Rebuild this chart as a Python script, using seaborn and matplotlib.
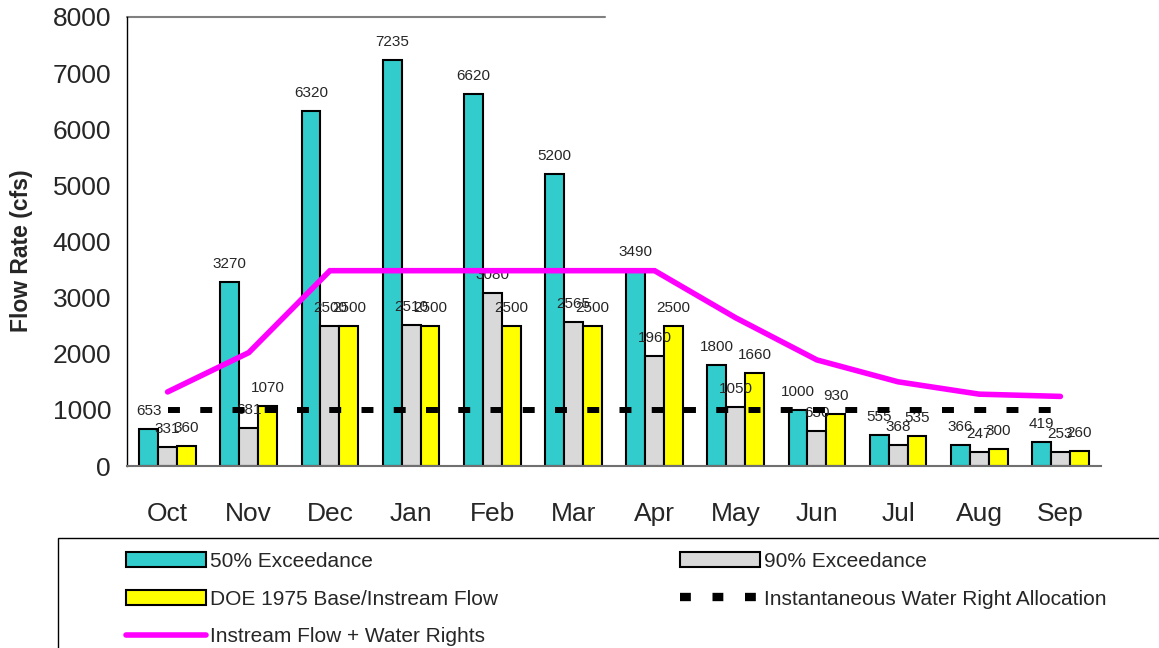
import pandas as pd
import seaborn as sns
import matplotlib.pyplot as plt
from matplotlib.patches import Patch, Rectangle
from matplotlib.lines import Line2D

# monthly flows (cfs)
months = ['Oct', 'Nov', 'Dec', 'Jan', 'Feb', 'Mar', 'Apr', 'May', 'Jun', 'Jul', 'Aug', 'Sep']
exceed_50 = [653, 3270, 6320, 7235, 6620, 5200, 3490, 1800, 1000, 555, 366, 419]
exceed_90 = [331, 681, 2500, 2510, 3080, 2565, 1960, 1050, 630, 368, 247, 253]
doe_1975 = [360, 1070, 2500, 2500, 2500, 2500, 2500, 1660, 930, 535, 300, 260]
water_right = [1000, 1000, 1000, 1000, 1000, 1000, 1000, 1000, 1000, 1000, 1000, 1000]
instream_plus_rights = [1320, 2020, 3480, 3480, 3480, 3480, 3480, 2640, 1890, 1500, 1280, 1240]

series_names = ['50% Exceedance', '90% Exceedance', 'DOE 1975 Base/Instream Flow']
bar_colors = ['#33CCCC', '#D9D9D9', '#FFFF00']

# long form table for seaborn
df = pd.DataFrame({
    'month': months * 3,
    'flow': exceed_50 + exceed_90 + doe_1975,
    'series': [s for s in series_names for _ in months],
})

sns.set_style('white')
plt.rcParams['font.family'] = ['Liberation Sans', 'DejaVu Sans']

fig = plt.figure(figsize=(11.59, 6.48), dpi=100)
ax = fig.add_axes([127 / 1159, 1 - 466 / 648, (1101 - 127) / 1159, (466 - 17) / 648])

sns.barplot(data=df, x='month', y='flow', hue='series', order=months, hue_order=series_names,
            palette=bar_colors, saturation=1, edgecolor='black', linewidth=1.5,
            width=0.7, errorbar=None, legend=False, ax=ax)

# value labels on the bars
for cont in ax.containers:
    ax.bar_label(cont, fmt='%d', padding=8, fontsize=11)

# lines drawn at the month positions
xpos = list(range(len(months)))
ax.plot(xpos, water_right, color='black', lw=4.3, linestyle=(0, (2, 3.4)),
        dash_capstyle='butt', zorder=4)
ax.plot(xpos, instream_plus_rights, color='#FF00FF', lw=4, zorder=5,
        solid_joinstyle='miter')

ax.set_xlim(-0.5, len(months) - 0.5)
ax.set_ylim(0, 8000)
ax.set_yticks(range(0, 8001, 1000))
ax.set_xlabel('')
ax.set_ylabel('Flow Rate (cfs)', fontsize=16.5, fontweight='bold')
ax.yaxis.set_label_coords(-0.0965, 0.48)

ax.tick_params(axis='y', direction='inout', length=11, width=1, color='black',
               labelsize=19, pad=6)
ax.tick_params(axis='x', which='major', length=0, labelsize=19, pad=26)
ax.set_xticks([i - 0.5 for i in range(len(months) + 1)], minor=True)
ax.tick_params(axis='x', which='minor', direction='inout', length=11, width=1, color='black')

for side in ['top', 'right']:
    ax.spines[side].set_visible(False)
ax.spines['left'].set_color('black')
ax.spines['left'].set_linewidth(1)
ax.spines['bottom'].set_color('#707070')
ax.spines['bottom'].set_linewidth(1.5)
ax.axhline(8000, xmin=0, xmax=(605 - 127) / 974, color='#808080', lw=1.5, clip_on=False)

# legend box below the chart
fig.add_artist(Rectangle((58 / 1159, -0.05), 1.0, 1 - 538 / 648 + 0.05,
                         transform=fig.transFigure, fill=False, edgecolor='black', lw=1))
handles = [
    Patch(facecolor=bar_colors[0], edgecolor='black', lw=1.5),
    Patch(facecolor=bar_colors[2], edgecolor='black', lw=1.5),
    Line2D([], [], color='#FF00FF', lw=4),
    Patch(facecolor=bar_colors[1], edgecolor='black', lw=1.5),
    Line2D([], [], color='black', lw=6, linestyle=(0, (1.3, 2.6)), dash_capstyle='butt'),
]
labels = ['50% Exceedance', 'DOE 1975 Base/Instream Flow', 'Instream Flow + Water Rights',
          '90% Exceedance', 'Instantaneous Water Right Allocation']
fig.legend(handles, labels, ncol=2, loc='upper left', bbox_to_anchor=(126 / 1159, 1 - 552 / 648),
           frameon=False, fontsize=15, handlelength=3.85, handleheight=0.7, handletextpad=0.2,
           columnspacing=8.7, labelspacing=0.9, borderpad=0, borderaxespad=0)

fig.savefig('out.png', dpi=100)
